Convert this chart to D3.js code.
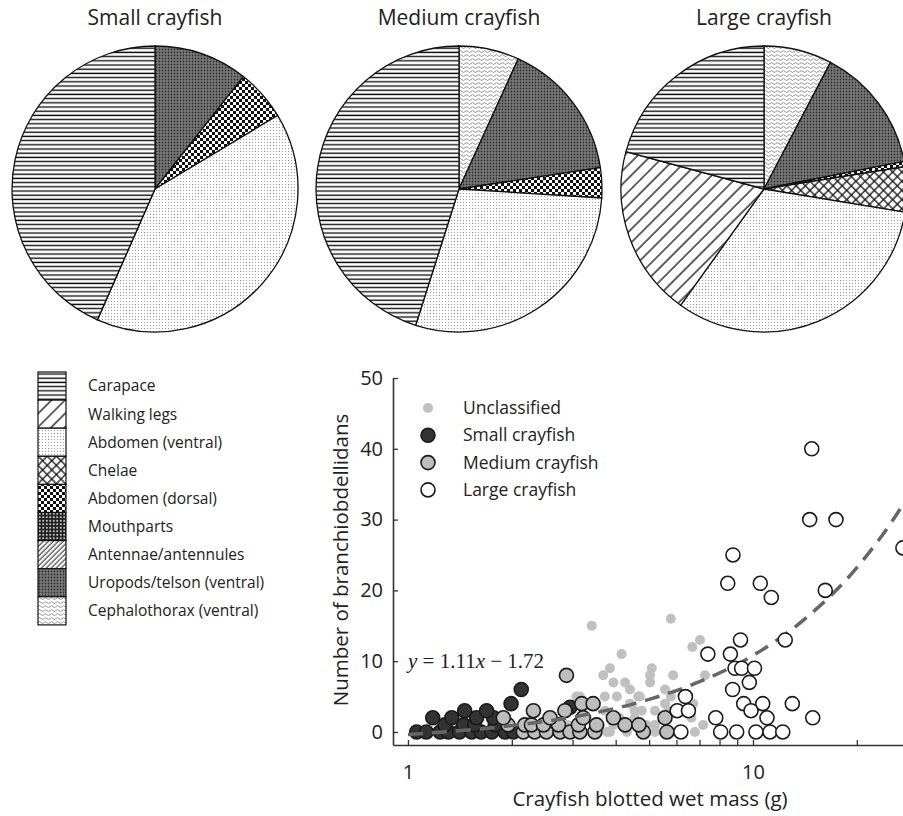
<!DOCTYPE html>
<html>
<head>
<meta charset="utf-8">
<script src="https://cdn.jsdelivr.net/npm/d3@7"></script>
<style>
  body { margin: 0; background: #fff; }
  text { font-family: "Open Sans", sans-serif; fill: #222; }
</style>
</head>
<body>
<script>
// body parts, legend order
var parts = ["Carapace", "Walking legs", "Abdomen (ventral)", "Chelae", "Abdomen (dorsal)",
             "Mouthparts", "Antennae/antennules", "Uropods/telson (ventral)", "Cephalothorax (ventral)"];

// % of branchiobdellidans found on each part (legend order)
var smallShare  = [43.4, 0, 40.2, 0, 5.8, 0, 0, 10.6, 0];
var mediumShare = [45.1, 0, 28.9, 0, 3.4, 0, 0, 15.8, 6.8];
var largeShare  = [20.8, 19.3, 32.3, 5.1, 0.6, 0, 0, 14.2, 7.7];
var pieTitles = ["Small crayfish", "Medium crayfish", "Large crayfish"];

// scatter: [blotted wet mass (g), number of branchiobdellidans]
var unclassified = [[3.41,15],[4.16,11],[3.85,9],[3.68,8],[3.94,7],[4.26,7],[4.03,5],[4.4,6],[3.72,5],[3.15,5],
  [3.72,3],[4.4,4],[4.54,3],[4.76,3],[4.65,5],[5.78,16],[7.02,13],[6.67,12],[5.09,9],[5.03,8],[5.03,7],[5.87,8],
  [7.26,8],[5.56,6],[5.78,5],[4.7,5],[5.2,3],[5.56,4],[5.68,3],[6.71,4],[6.63,2],[7.17,1],[6.79,0],[5.2,1],
  [4.54,2],[5.2,0],[5.94,0],[3.22,4],[3.77,0],[3.48,0],[3.94,1],[3.85,0],[4.31,0],[3.08,5],[2.6,2],[2.9,1],
  [3.3,2],[4.1,2],[4.9,1],[3.6,1]];
var smallCray = [[1.06,0],[1.13,0],[1.24,0],[1.31,0],[1.41,0],[1.53,0],[1.63,0],[1.75,0],[1.91,0],[2.02,0],
  [1.28,1],[1.45,1],[1.56,1],[1.79,1],[1.18,2],[1.34,2],[1.58,2],[1.77,2],[1.46,3],[1.69,3],[1.99,4],[2.13,6],[2.95,3.5]];
var mediumCray = [[2.16,0],[2.33,0],[2.52,0],[2.76,0],[2.95,0],[3.15,0],[3.48,0],[4.81,0],[5.63,0],
  [2.18,1],[2.28,1],[2.47,1],[2.73,1],[3.12,1],[3.52,1],[4.26,1],[4.67,1],[1.95,1],
  [1.89,2],[2.58,2],[3.22,2],[3.94,2],[5.56,2],[2.31,3],[2.85,3],[3.19,4],[3.44,4],[2.88,8]];
var largeCray = [[14.8,40],[14.6,30],[17.4,30],[16.2,20],[27.2,26],[8.75,25],[8.45,21],[10.5,21],[11.3,19],
  [9.2,13],[12.4,13],[7.4,11],[8.6,11],[8.87,9],[9.27,9],[10.1,9],[9.76,7],[8.73,6],[6.37,5],[9.4,4],
  [10.67,4],[13.0,4],[6.03,3],[6.5,3],[9.87,3],[7.8,2],[10.98,2],[14.9,2],[6.18,0],[8.06,0],[8.97,0],
  [10.2,0],[11.2,0],[12.2,0]];

// dashed fit curve as [mass, count]
var fitCurve = [[1,-0.35],[2,0.9],[3,2.1],[5,4.6],[7,7.1],[10,10.8],[14,15.8],[20,23.2],[28,33.1],[32,38]];
var fitLabel = ["y", " = 1.11", "x", " \u2212 1.72"];

var yTicks = [0, 10, 20, 30, 40, 50];
var xTicks = [1, 2, 3, 4, 5, 6, 7, 8, 9, 10, 20, 30];
var xLabelled = [1, 10];

var svg = d3.select("body").append("svg").attr("width", 903).attr("height", 816);
var defs = svg.append("defs");

// ---- fill patterns, one per body part ----
function pat(id, w, h, rot) {
  var p = defs.append("pattern").attr("id", id).attr("patternUnits", "userSpaceOnUse")
    .attr("width", w).attr("height", h);
  if (rot) p.attr("patternTransform", "rotate(" + rot + ")");
  return p;
}
var p;
p = pat("p0", 6, 4.2);                       // carapace: horizontal lines
p.append("rect").attr("width", 6).attr("height", 4.2).attr("fill", "#fff");
p.append("line").attr("x1", 0).attr("x2", 6).attr("y1", 2).attr("y2", 2).attr("stroke", "#111").attr("stroke-width", 1.4);

p = pat("p1", 9.5, 9.5, 45);                 // walking legs: wide diagonals
p.append("rect").attr("width", 9.5).attr("height", 9.5).attr("fill", "#fff");
p.append("line").attr("x1", 1).attr("x2", 1).attr("y1", 0).attr("y2", 9.5).attr("stroke", "#111").attr("stroke-width", 1.3);

p = pat("p2", 3, 3);                         // abdomen ventral: light stipple
p.append("rect").attr("width", 3).attr("height", 3).attr("fill", "#fff");
p.append("rect").attr("x", 1).attr("y", 1).attr("width", 1).attr("height", 1).attr("fill", "#9a9a9a");

p = pat("p3", 6.5, 6.5, 45);                 // chelae: crosshatch
p.append("rect").attr("width", 6.5).attr("height", 6.5).attr("fill", "#fff");
p.append("line").attr("x1", 1).attr("x2", 1).attr("y1", 0).attr("y2", 6.5).attr("stroke", "#111").attr("stroke-width", 1.3);
p.append("line").attr("x1", 0).attr("x2", 6.5).attr("y1", 1).attr("y2", 1).attr("stroke", "#111").attr("stroke-width", 1.3);

p = pat("p4", 6, 6);                         // abdomen dorsal: checker
p.append("rect").attr("width", 6).attr("height", 6).attr("fill", "#fff");
p.append("rect").attr("width", 3).attr("height", 3).attr("fill", "#111");
p.append("rect").attr("x", 3).attr("y", 3).attr("width", 3).attr("height", 3).attr("fill", "#111");

p = pat("p5", 3.5, 3.5);                     // mouthparts: white dots on black
p.append("rect").attr("width", 3.5).attr("height", 3.5).attr("fill", "#222");
p.append("circle").attr("cx", 1.75).attr("cy", 1.75).attr("r", 0.9).attr("fill", "#fff");

p = pat("p6", 3.5, 3.5, 45);                 // antennae: fine diagonals
p.append("rect").attr("width", 3.5).attr("height", 3.5).attr("fill", "#fff");
p.append("line").attr("x1", 1).attr("x2", 1).attr("y1", 0).attr("y2", 3.5).attr("stroke", "#222").attr("stroke-width", 1);

p = pat("p7", 3, 3);                         // uropods: dark dense dots
p.append("rect").attr("width", 3).attr("height", 3).attr("fill", "#7a7a7a");
p.append("circle").attr("cx", 1.5).attr("cy", 1.5).attr("r", 0.9).attr("fill", "#303030");

p = pat("p8", 6, 4);                         // cephalothorax: wavy
p.append("rect").attr("width", 6).attr("height", 4).attr("fill", "#fff");
p.append("path").attr("d", "M0,2.6 Q1.5,0.6 3,2.6 T6,2.6").attr("fill", "none").attr("stroke", "#777").attr("stroke-width", 0.8);

// ---- pies ----
var shares = [smallShare, mediumShare, largeShare];
var pieCx = [155, 459, 764], pieCy = 189, pieR = 143;
var pie = d3.pie().sort(null).value(function(d) { return d.v; });
var arc = d3.arc().innerRadius(0).outerRadius(pieR);

shares.forEach(function(s, k) {
  // clockwise from 12 o'clock in reversed legend order
  var rows = parts.map(function(name, i) { return {i: i, v: s[i]}; }).reverse()
    .filter(function(d) { return d.v > 0; });
  var g = svg.append("g").attr("transform", "translate(" + pieCx[k] + "," + pieCy + ")");
  g.selectAll("path").data(pie(rows)).enter().append("path")
    .attr("d", arc)
    .attr("fill", function(d) { return "url(#p" + d.data.i + ")"; })
    .attr("stroke", "#111").attr("stroke-width", 1.3);
  svg.append("text").attr("x", pieCx[k]).attr("y", 25).attr("text-anchor", "middle")
    .style("font-size", "21px").text(pieTitles[k]);
});

// ---- pattern legend ----
var leg = svg.append("g").attr("transform", "translate(38,372)");
parts.forEach(function(name, i) {
  leg.append("rect").attr("x", 0).attr("y", i * 28.1).attr("width", 28).attr("height", 28.1)
    .attr("fill", "url(#p" + i + ")").attr("stroke", "#111").attr("stroke-width", 1.2);
  leg.append("text").attr("x", 50).attr("y", i * 28.1 + 14).attr("dy", "0.35em")
    .style("font-size", "15.5px").text(name);
});

// ---- scatter ----
var x = d3.scaleLog().domain([0.905, 30]).range([393, 917.6]);
var y = d3.scaleLinear().domain([-1.84, 50]).range([745, 378]);

var xAxis = d3.axisBottom(x).tickValues(xTicks).tickSizeInner(-5).tickSizeOuter(0).tickPadding(20)
  .tickFormat(function(d) { return xLabelled.indexOf(d) >= 0 ? d : ""; });
var yAxis = d3.axisLeft(y).tickValues(yTicks).tickSizeInner(-5).tickSizeOuter(0).tickPadding(10);

var gx = svg.append("g").attr("transform", "translate(0,745)").call(xAxis);
var gy = svg.append("g").attr("transform", "translate(393,0)").call(yAxis);
[gx, gy].forEach(function(a) {
  a.select(".domain").attr("stroke", "#333").attr("stroke-width", 1.6);
  a.selectAll(".tick line").attr("stroke", "#333").attr("stroke-width", 1.3);
  a.selectAll(".tick text").style("font-size", "20px").style("font-family", "'Open Sans', sans-serif").attr("fill", "#222");
});

svg.append("text").attr("transform", "translate(348,560) rotate(-90)").attr("text-anchor", "middle")
  .style("font-size", "20.5px").text("Number of branchiobdellidans");
svg.append("text").attr("x", 650).attr("y", 806).attr("text-anchor", "middle")
  .style("font-size", "20.5px").text("Crayfish blotted wet mass (g)");

var plot = svg.append("g");
plot.selectAll(".u").data(unclassified).enter().append("circle")
  .attr("cx", function(d) { return x(d[0]); }).attr("cy", function(d) { return y(d[1]); })
  .attr("r", 5).attr("fill", "#c0c0c0");

function drawGroup(data, fill) {
  plot.append("g").selectAll("circle").data(data).enter().append("circle")
    .attr("cx", function(d) { return x(d[0]); }).attr("cy", function(d) { return y(d[1]); })
    .attr("r", 7).attr("fill", fill).attr("stroke", "#1a1a1a").attr("stroke-width", 1.6);
}
drawGroup(smallCray, "#333");
drawGroup(mediumCray, "#bdbdbd");

var line = d3.line()
  .x(function(d) { return x(d[0]); })
  .y(function(d) { return y(d[1]); })
  .curve(d3.curveMonotoneX);
plot.append("path").attr("d", line(fitCurve)).attr("fill", "none")
  .attr("stroke", "#666").attr("stroke-width", 3.5).attr("stroke-dasharray", "15 9");

drawGroup(largeCray, "#fff");

// equation
var eq = svg.append("text").attr("x", 408).attr("y", 668)
  .style("font-family", "'Liberation Serif', 'Times New Roman', serif").style("font-size", "21px");
fitLabel.forEach(function(t, i) {
  eq.append("tspan").style("font-style", i % 2 === 0 ? "italic" : "normal").text(t);
});

// scatter legend
var sLeg = [
  {label: "Unclassified", r: 5, fill: "#c0c0c0", stroke: "none"},
  {label: "Small crayfish", r: 7, fill: "#333", stroke: "#1a1a1a"},
  {label: "Medium crayfish", r: 7, fill: "#bdbdbd", stroke: "#1a1a1a"},
  {label: "Large crayfish", r: 7, fill: "#fff", stroke: "#1a1a1a"}
];
sLeg.forEach(function(d, i) {
  var cy = 408 + i * 27.3;
  svg.append("circle").attr("cx", 428).attr("cy", cy).attr("r", d.r)
    .attr("fill", d.fill).attr("stroke", d.stroke).attr("stroke-width", 1.6);
  svg.append("text").attr("x", 463).attr("y", cy).attr("dy", "0.35em")
    .style("font-size", "17.5px").text(d.label);
});
</script>
</body>
</html>
